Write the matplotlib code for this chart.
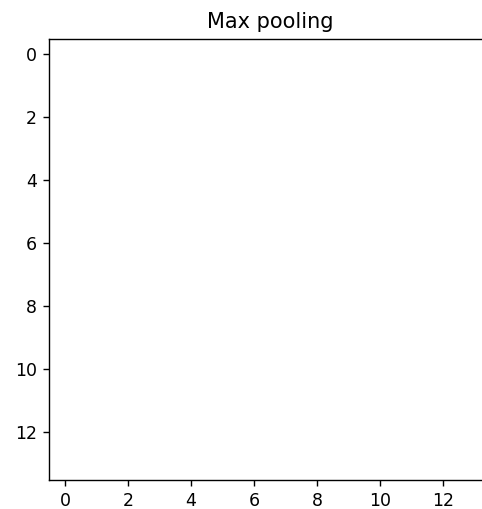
import numpy as np
import matplotlib
matplotlib.use("Agg")
import matplotlib.pyplot as plt

# 14x14 pooled feature map (all zero -> rendered white)
pooled = np.zeros((14, 14))
title = "Max pooling"

W, H, DPI = 482, 509, 125
fig = plt.figure(figsize=(W / DPI, H / DPI), dpi=DPI)
# axes spans x -0.5..13.5 ; right part falls outside the canvas (cropped)
left, right, top, bottom = 49.3, 490.3, 38.5, 479.5
ax = fig.add_axes([left / W, (H - bottom) / H, (right - left) / W, (bottom - top) / H])
ax.imshow(pooled, cmap="Greys", vmin=0, vmax=1)
ax.set_title(title)
fig.savefig("out.png", dpi=DPI)
